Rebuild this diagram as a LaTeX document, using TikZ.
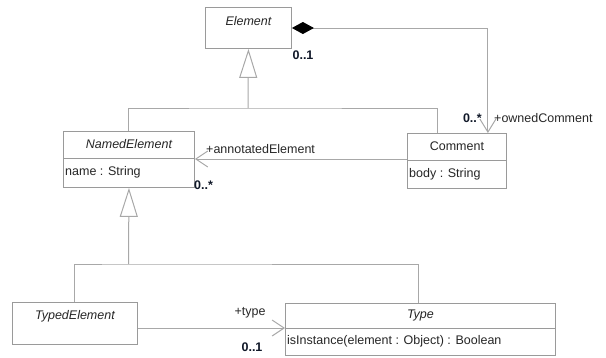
\documentclass[tikz,border=0pt]{standalone}
\usepackage{fontspec}
\setmainfont{Liberation Sans}
\usetikzlibrary{arrows.meta}
\definecolor{boxgray}{HTML}{9A9A9A}
\definecolor{linegray}{HTML}{A8A8A8}
\definecolor{txt}{HTML}{262626}
\definecolor{mult}{HTML}{101828}
\begin{document}
\begin{tikzpicture}[x=1pt,y=-1pt,
  box/.style={draw=boxgray, line width=0.9pt, inner sep=0pt, anchor=north west, fill=white},
  divider/.style={draw=boxgray, line width=0.9pt},
  conn/.style={draw=linegray, line width=1pt},
  clsname/.style={font=\fontsize{12.5}{14}\selectfont\itshape, text=txt, inner sep=0pt},
  plainname/.style={font=\fontsize{12.5}{14}\selectfont, text=txt, inner sep=0pt},
  attr/.style={font=\fontsize{12.5}{14}\selectfont, text=txt, inner sep=0pt, anchor=west},
  role/.style={font=\fontsize{12.5}{14}\selectfont, text=txt, inner sep=0pt},
  multlabel/.style={font=\fontsize{12.5}{14}\selectfont\bfseries, text=mult, inner sep=0pt},
  gentip/.style={-{Triangle[open, length=29pt, width=18pt, line width=1pt]}},
  navtip/.style={-{Straight Barb[length=12pt, width=16pt, line width=1pt]}},
]
\useasboundingbox (0,0) rectangle (606,357);

% class boxes
\node[box, minimum width=86pt, minimum height=41pt] (element) at (205,7) {};
\node[box, minimum width=131pt, minimum height=56pt] (namedel) at (63,131) {};
\node[box, minimum width=99pt, minimum height=55pt] (comment) at (407,133) {};
\node[box, minimum width=125pt, minimum height=42pt] (typedel) at (12,302) {};
\node[box, minimum width=270pt, minimum height=52pt] (type) at (285,303) {};

% compartment dividers
\draw[divider] ([yshift=-27pt]namedel.north west) -- ([yshift=-27pt]namedel.north east);
\draw[divider] ([yshift=-27pt]comment.north west) -- ([yshift=-27pt]comment.north east);
\draw[divider] ([yshift=-25pt]type.north west) -- ([yshift=-25pt]type.north east);

% class names and attributes
\node[clsname] (elementname) at ([yshift=-14pt]element.north) {Element};
\node[clsname] (namedelname) at ([yshift=-13.5pt]namedel.north) {NamedElement};
\node[attr] (namedelattr) at ([xshift=2pt,yshift=-41pt]namedel.north west) {name : String};
\node[plainname] (commentname) at ([yshift=-13.5pt]comment.north) {Comment};
\node[attr] (commentattr) at ([xshift=2pt,yshift=-41pt]comment.north west) {body : String};
\node[clsname] (typedelname) at ([yshift=-14pt]typedel.north) {TypedElement};
\node[clsname] (typename) at ([yshift=-12.5pt]type.north) {Type};
\node[attr] (typeattr) at ([xshift=2pt,yshift=-38.5pt]type.north west) {isInstance(element : Object) : Boolean};

% generalization: NamedElement and Comment specialize Element
\coordinate (joinA) at (248,108);
\draw[conn] (namedel.north) |- (joinA) -| ([xshift=-19.5pt]comment.north);
\draw[conn, gentip] (joinA) -- (element.south);

% generalization: TypedElement and Type specialize NamedElement
\coordinate (joinB) at (128.5,264);
\draw[conn] (typedel.north) |- (joinB) -| ([xshift=-2pt]type.north);
\draw[conn, gentip] (joinB) -- (namedel.south);

% composition Element <>-- Comment (ownedComment)
\draw[conn, {Diamond[length=22pt, width=12pt, fill=black, color=black]}-{Straight Barb[length=13pt, width=16pt, line width=1pt]}]
  ([yshift=-21pt]element.north east) -| ([xshift=-19pt]comment.north east);
\node[multlabel] (ownerMult) at (303,55) {0..1};
\node[multlabel, anchor=east] (ownedMult) at (482,118) {0..*};
\node[role, anchor=west] (ownedRole) at (494,118) {+ownedComment};

% association Comment --> NamedElement (annotatedElement)
\coordinate (annA) at ([yshift=-26pt]comment.north west);
\draw[conn, navtip] (annA) -- (annA -| namedel.east);
\node[role, anchor=west] (annRole) at (206,149) {+annotatedElement};
\node[multlabel, anchor=west] (annMult) at (194,185) {0..*};

% association TypedElement --> Type (type)
\coordinate (typA) at ([yshift=-26pt]typedel.north east);
\draw[conn, navtip] (typA) -- (typA -| type.west);
\node[role] (typeRole) at (250,313) {+type};
\node[multlabel] (typeMult) at (252,347) {0..1};
\end{tikzpicture}
\end{document}
